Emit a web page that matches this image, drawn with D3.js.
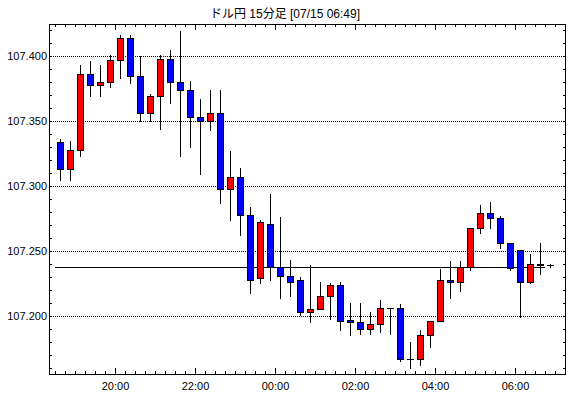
<!DOCTYPE html>
<html>
<head>
<meta charset="utf-8">
<script src="https://cdn.jsdelivr.net/npm/d3@7"></script>
<style>
  body { margin: 0; background: #fff; }
  svg text { font-family: 'Liberation Sans', 'Noto Sans CJK JP', sans-serif; }
</style>
</head>
<body>
<div id="chart"></div>
<script>
// USD/JPY 15 min candles, 07/14 18:30 - 07/15 06:45
const title = 'ドル円 15分足 [07/15 06:49]';

const times = [
  '18:30', '18:45', '19:00', '19:15', '19:30', '19:45', '20:00', '20:15', '20:30', '20:45',
  '21:00', '21:15', '21:30', '21:45', '22:00', '22:15', '22:30', '22:45', '23:00', '23:15',
  '23:30', '23:45', '00:00', '00:15', '00:30', '00:45', '01:00', '01:15', '01:30', '01:45',
  '02:00', '02:15', '02:30', '02:45', '03:00', '03:15', '03:30', '03:45', '04:00', '04:15',
  '04:30', '04:45', '05:00', '05:15', '05:30', '05:45', '06:00', '06:15', '06:30', '06:45'
];
const opens = [
  107.334, 107.313, 107.328, 107.386, 107.378, 107.380, 107.397, 107.414, 107.385, 107.356,
  107.369, 107.398, 107.380, 107.374, 107.353, 107.350, 107.356, 107.298, 107.307, 107.278,
  107.229, 107.271, 107.238, 107.231, 107.228, 107.203, 107.205, 107.215, 107.224, 107.197,
  107.195, 107.190, 107.194, 107.206, 107.206, 107.167, 107.167, 107.185, 107.196, 107.228,
  107.226, 107.238, 107.268, 107.279, 107.275, 107.256, 107.251, 107.226, 107.240, 107.239
];
const highs = [
  107.336, 107.335, 107.393, 107.396, 107.393, 107.401, 107.416, 107.416, 107.400, 107.371,
  107.401, 107.405, 107.419, 107.381, 107.367, 107.374, 107.374, 107.327, 107.314, 107.284,
  107.274, 107.294, 107.276, 107.243, 107.230, 107.239, 107.226, 107.225, 107.226, 107.210,
  107.210, 107.203, 107.212, 107.206, 107.209, 107.180, 107.189, 107.196, 107.236, 107.242,
  107.242, 107.268, 107.285, 107.288, 107.277, 107.256, 107.251, 107.248, 107.256, 107.240
];
const lows = [
  107.305, 107.305, 107.323, 107.369, 107.369, 107.376, 107.383, 107.379, 107.350, 107.350,
  107.344, 107.364, 107.323, 107.330, 107.309, 107.343, 107.287, 107.274, 107.262, 107.218,
  107.225, 107.228, 107.214, 107.215, 107.201, 107.195, 107.205, 107.198, 107.189, 107.185,
  107.186, 107.186, 107.188, 107.186, 107.165, 107.160, 107.162, 107.176, 107.196, 107.214,
  107.219, 107.235, 107.264, 107.268, 107.252, 107.235, 107.199, 107.225, 107.232, 107.238
];
const closes = [
  107.313, 107.328, 107.386, 107.378, 107.380, 107.397, 107.414, 107.385, 107.356, 107.369,
  107.398, 107.380, 107.374, 107.353, 107.350, 107.356, 107.298, 107.307, 107.278, 107.228,
  107.272, 107.238, 107.231, 107.226, 107.203, 107.205, 107.215, 107.224, 107.196, 107.195,
  107.190, 107.194, 107.206, 107.206, 107.167, 107.167, 107.185, 107.196, 107.228, 107.226,
  107.238, 107.268, 107.279, 107.275, 107.256, 107.237, 107.226, 107.240, 107.239, 107.239
];

const yTicks = [107.200, 107.250, 107.300, 107.350, 107.400];
const xTickLabels = ['20:00', '22:00', '00:00', '02:00', '04:00', '06:00'];
const lastPrice = 107.2375;

const W = 570, H = 398;
const plot = {left: 49, right: 566, top: 24, bottom: 374};

const toDate = (s) => {
  const [h, m] = s.split(':').map(Number);
  return new Date(2020, 6, h >= 12 ? 14 : 15, h, m);
};

const bars = times.map((t, i) => ({t: toDate(t), o: opens[i], h: highs[i], l: lows[i], c: closes[i]}));

const x = d3.scaleTime()
  .domain([new Date(2020, 6, 14, 18, 21), new Date(2020, 6, 15, 7, 16, 30)])
  .range([plot.left, plot.right]);

const y = d3.scaleLinear()
  .domain([107.15538, 107.42462])
  .range([plot.bottom, plot.top]);

const mid = (t) => Math.round(x(new Date(+t + 7.5 * 60000)));
const py = (v) => Math.round(y(v)) + 0.5;

const svg = d3.select('#chart').append('svg')
  .attr('width', W)
  .attr('height', H)
  .style('display', 'block');

// title
svg.append('text')
  .attr('x', 285)
  .attr('y', 18)
  .attr('text-anchor', 'middle')
  .attr('font-size', 12)
  .text(title);

// dotted grid
svg.append('g')
  .selectAll('line')
  .data(yTicks)
  .join('line')
  .attr('x1', plot.left)
  .attr('x2', plot.right)
  .attr('y1', (d) => py(d))
  .attr('y2', (d) => py(d))
  .attr('stroke', '#000')
  .attr('stroke-dasharray', '1,1')
  .attr('shape-rendering', 'crispEdges');

// axes (ticks drawn inward)
const minorY = d3.range(107.16, 107.4201, 0.01);
const minorX = d3.timeMinute.every(15).range(x.domain()[0], x.domain()[1]);
const majorX = xTickLabels.map(toDate);

const noDomain = (g) => g.select('.domain').remove();

svg.append('g')
  .attr('transform', `translate(${plot.left},0)`)
  .call(d3.axisLeft(y).tickValues(minorY).tickSize(-3).tickFormat(''))
  .call(noDomain);

svg.append('g')
  .attr('transform', `translate(${plot.left},0)`)
  .call(d3.axisLeft(y).tickValues(yTicks).tickSize(-3).tickPadding(2).tickFormat(d3.format('.3f')))
  .call(noDomain)
  .attr('font-size', 11);

svg.append('g')
  .attr('transform', `translate(${plot.right},0)`)
  .call(d3.axisRight(y).tickValues(minorY).tickSize(-3).tickFormat(''))
  .call(noDomain);

svg.append('g')
  .attr('transform', `translate(0,${plot.bottom})`)
  .call(d3.axisBottom(x).tickValues(minorX).tickSize(-3).tickFormat(''))
  .call(noDomain);

svg.append('g')
  .attr('transform', `translate(0,${plot.bottom})`)
  .call(d3.axisBottom(x).tickValues(majorX).tickSize(-6).tickPadding(8).tickFormat(d3.timeFormat('%H:%M')))
  .call(noDomain)
  .attr('font-size', 11);

svg.append('g')
  .attr('transform', `translate(0,${plot.top})`)
  .call(d3.axisTop(x).tickValues(minorX).tickSize(-3).tickFormat(''))
  .call(noDomain);

svg.append('g')
  .attr('transform', `translate(0,${plot.top})`)
  .call(d3.axisTop(x).tickValues(majorX).tickSize(-6).tickFormat(''))
  .call(noDomain);

// frame
svg.append('rect')
  .attr('x', plot.left + 0.5)
  .attr('y', plot.top + 0.5)
  .attr('width', plot.right - plot.left - 1)
  .attr('height', plot.bottom - plot.top)
  .attr('fill', 'none')
  .attr('stroke', '#000');

// current price line
svg.append('line')
  .attr('x1', x(bars[0].t))
  .attr('x2', x(bars[bars.length - 1].t))
  .attr('y1', py(lastPrice))
  .attr('y2', py(lastPrice))
  .attr('stroke', '#000');

// candles
const candle = svg.append('g')
  .selectAll('g')
  .data(bars)
  .join('g');

candle.append('line')
  .attr('x1', (d) => mid(d.t) + 0.5)
  .attr('x2', (d) => mid(d.t) + 0.5)
  .attr('y1', (d) => Math.round(y(d.h)))
  .attr('y2', (d) => Math.round(y(d.l)) + 1)
  .attr('stroke', '#000');

candle.filter((d) => d.o !== d.c)
  .append('rect')
  .attr('x', (d) => mid(d.t) - 3 + 0.5)
  .attr('width', 6)
  .attr('y', (d) => Math.round(y(Math.max(d.o, d.c))) + 0.5)
  .attr('height', (d) => Math.max(1, Math.round(y(Math.min(d.o, d.c))) - Math.round(y(Math.max(d.o, d.c)))))
  .attr('fill', (d) => d.c > d.o ? '#ff0000' : '#0000ff')
  .attr('stroke', '#000');

candle.filter((d) => d.o === d.c)
  .append('line')
  .attr('x1', (d) => mid(d.t) - 3)
  .attr('x2', (d) => mid(d.t) + 4)
  .attr('y1', (d) => py(d.o))
  .attr('y2', (d) => py(d.o))
  .attr('stroke', '#000');
</script>
</body>
</html>
